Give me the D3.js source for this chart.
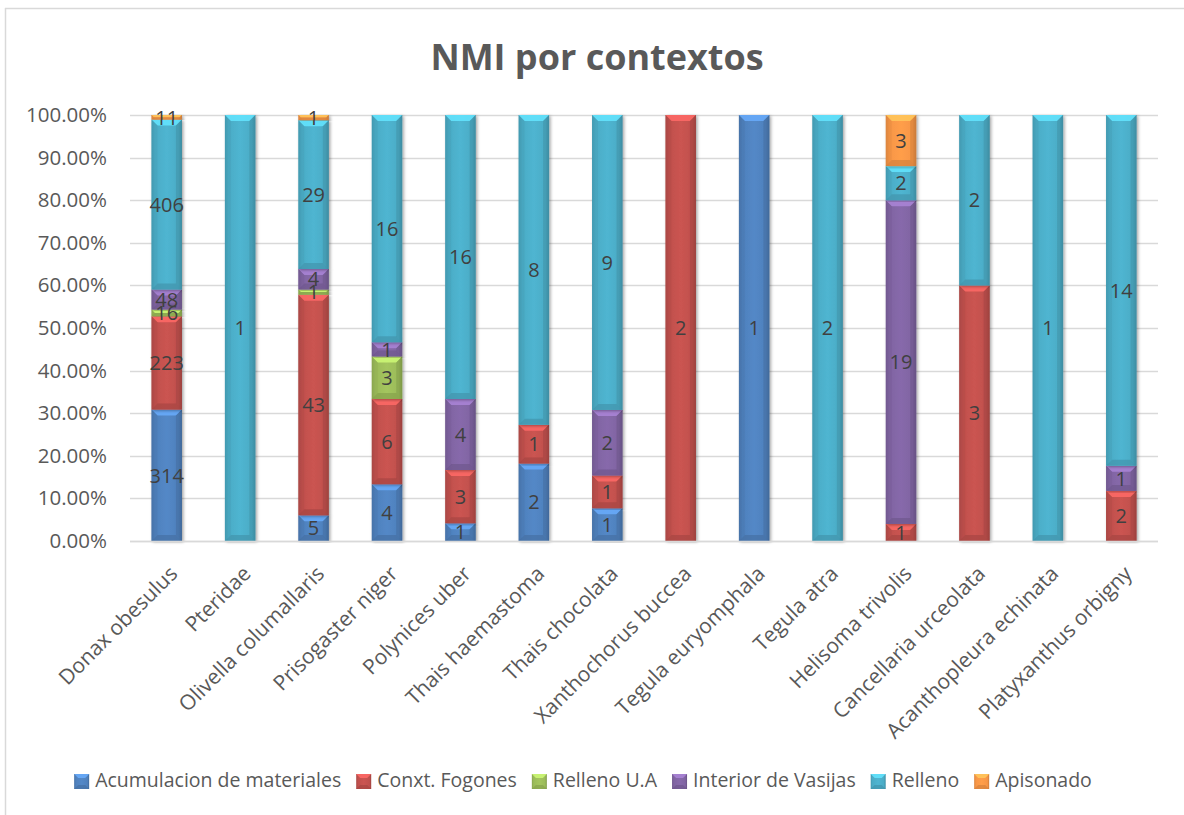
<!DOCTYPE html>
<html>
<head>
<meta charset="utf-8">
<script src="https://cdn.jsdelivr.net/npm/d3@7"></script>
<style>
  html, body { margin: 0; padding: 0; background: #fff; }
  svg { display: block; font-family: "Open Sans", "Noto Sans", sans-serif; }
</style>
</head>
<body>
<svg id="chart" width="1184" height="815"></svg>
<script>
// Species (categories) and counts per context
const categories = [
  "Donax obesulus", "Pteridae", "Olivella columallaris", "Prisogaster niger",
  "Polynices uber", "Thais haemastoma", "Thais chocolata", "Xanthochorus buccea",
  "Tegula euryomphala", "Tegula atra", "Helisoma trivolis", "Cancellaria urceolata",
  "Acanthopleura echinata", "Platyxanthus orbigny"
];
const seriesNames = [
  "Acumulacion de materiales", "Conxt. Fogones", "Relleno U.A",
  "Interior de Vasijas", "Relleno", "Apisonado"
];
const acumulacion = [314, 0, 5, 4, 1, 2, 1, 0, 1, 0, 0, 0, 0, 0];
const fogones     = [223, 0, 43, 6, 3, 1, 1, 2, 0, 0, 1, 3, 0, 2];
const rellenoUA   = [16, 0, 1, 3, 0, 0, 0, 0, 0, 0, 0, 0, 0, 0];
const interior    = [48, 0, 4, 1, 4, 0, 2, 0, 0, 0, 19, 0, 0, 1];
const relleno     = [406, 1, 29, 16, 16, 8, 9, 0, 0, 2, 2, 2, 1, 14];
const apisonado   = [11, 0, 1, 0, 0, 0, 0, 0, 0, 0, 3, 0, 0, 0];
const yTickValues = [0, 0.1, 0.2, 0.3, 0.4, 0.5, 0.6, 0.7, 0.8, 0.9, 1.0];
const colors = ["#4F81BD", "#C0504D", "#9BBB59", "#8064A2", "#4BACC6", "#F79646"];

const seriesValues = [acumulacion, fogones, rellenoUA, interior, relleno, apisonado];
const rows = categories.map((c, i) => {
  const r = { cat: c };
  seriesNames.forEach((s, k) => r[s] = seriesValues[k][i]);
  return r;
});
const stacked = d3.stack().keys(seriesNames).offset(d3.stackOffsetExpand)(rows);

const svg = d3.select("#chart");
const W = 1184, H = 815;
const plot = { left: 130, right: 1158, top: 115, bottom: 541 };

// Chart frame (left and top edges visible)
svg.append("line").attr("x1", 5.5).attr("x2", 5.5).attr("y1", 8).attr("y2", H)
  .attr("stroke", "#d9d9d9").attr("stroke-width", 1.5);
svg.append("line").attr("x1", 5).attr("x2", W).attr("y1", 8.5).attr("y2", 8.5)
  .attr("stroke", "#d9d9d9").attr("stroke-width", 1.5);

const x = d3.scaleBand().domain(categories)
  .range([plot.left, plot.right]).paddingInner(0.585).paddingOuter(0.2925);
const y = d3.scaleLinear().domain([0, 1]).range([plot.bottom, plot.top]);

// Gradients and shadow
const defs = svg.append("defs");
colors.forEach((c, k) => {
  const base = d3.color(c);
  const g = defs.append("linearGradient").attr("id", "grad" + k)
    .attr("x1", "0").attr("x2", "1").attr("y1", "0").attr("y2", "0");
  g.append("stop").attr("offset", "0").attr("stop-color", base.darker(0.35));
  g.append("stop").attr("offset", "0.12").attr("stop-color", base);
  g.append("stop").attr("offset", "0.5").attr("stop-color", base.brighter(0.15));
  g.append("stop").attr("offset", "0.88").attr("stop-color", base);
  g.append("stop").attr("offset", "1").attr("stop-color", base.darker(0.55));
});
const f = defs.append("filter").attr("id", "shadow")
  .attr("x", "-30%").attr("y", "-5%").attr("width", "160%").attr("height", "110%");
f.append("feDropShadow").attr("dx", 1.5).attr("dy", 1).attr("stdDeviation", 1.8)
  .attr("flood-color", "#000").attr("flood-opacity", 0.35);

// Gridlines
const grid = svg.append("g");
yTickValues.forEach(v => {
  grid.append("line")
    .attr("x1", plot.left).attr("x2", plot.right)
    .attr("y1", Math.round(y(v)) + 0.5).attr("y2", Math.round(y(v)) + 0.5)
    .attr("stroke", "#d9d9d9").attr("stroke-width", 1.5);
});

// Y axis labels
const yAxis = d3.axisLeft(y).tickValues(yTickValues)
  .tickFormat(d3.format(".2%")).tickSize(0).tickPadding(0);
const yg = svg.append("g").attr("transform", `translate(${plot.left - 23},0)`).call(yAxis);
yg.select(".domain").remove();
yg.selectAll("text").attr("font-size", 20.5).attr("fill", "#595959")
  .attr("font-family", "'Open Sans', sans-serif");

// Bars with bevel
const bars = svg.append("g");
stacked.forEach((s, k) => {
  const base = d3.color(colors[k]);
  s.forEach((d, i) => {
    const v = seriesValues[k][i];
    if (!v) return;
    const x0 = x(categories[i]), x1 = x0 + x.bandwidth();
    const yt = y(d[1]), yb = y(d[0]);
    const h = yb - yt;
    const b = Math.min(6, h / 2);
    const seg = bars.append("g").attr("filter", "url(#shadow)");
    seg.append("rect").attr("x", x0).attr("y", yt).attr("width", x1 - x0).attr("height", h)
      .attr("fill", `url(#grad${k})`);
    // top bevel
    seg.append("polygon")
      .attr("points", [[x0, yt], [x1, yt], [x1 - b, yt + b], [x0 + b, yt + b]].map(p => p.join(",")).join(" "))
      .attr("fill", base.brighter(0.8)).attr("opacity", 0.85);
    // bottom bevel
    seg.append("polygon")
      .attr("points", [[x0, yb], [x1, yb], [x1 - b, yb - b], [x0 + b, yb - b]].map(p => p.join(",")).join(" "))
      .attr("fill", base.darker(0.5)).attr("opacity", 0.6);
    // right bevel
    seg.append("polygon")
      .attr("points", [[x1, yt], [x1, yb], [x1 - b, yb - b], [x1 - b, yt + b]].map(p => p.join(",")).join(" "))
      .attr("fill", base.darker(0.6)).attr("opacity", 0.45);
    // left bevel
    seg.append("polygon")
      .attr("points", [[x0, yt], [x0, yb], [x0 + b, yb - b], [x0 + b, yt + b]].map(p => p.join(",")).join(" "))
      .attr("fill", base.darker(0.3)).attr("opacity", 0.35);
  });
});

// Axis baseline
svg.append("line").attr("x1", plot.left).attr("x2", plot.right)
  .attr("y1", plot.bottom + 0.5).attr("y2", plot.bottom + 0.5)
  .attr("stroke", "#d9d9d9").attr("stroke-width", 1.5);

// Data labels
const labels = svg.append("g");
stacked.forEach((s, k) => {
  s.forEach((d, i) => {
    const v = seriesValues[k][i];
    if (!v) return;
    labels.append("text")
      .attr("x", x(categories[i]) + x.bandwidth() / 2)
      .attr("y", (y(d[0]) + y(d[1])) / 2)
      .attr("dy", "0.36em")
      .attr("text-anchor", "middle")
      .attr("font-size", 20)
      .attr("fill", "#404040")
      .text(v);
  });
});

// X axis labels, rotated
const xl = svg.append("g");
categories.forEach(c => {
  const cx = x(c) + x.bandwidth() / 2 + 12;
  const cy = plot.bottom + 34;
  xl.append("text")
    .attr("transform", `translate(${cx},${cy}) rotate(-45)`)
    .attr("text-anchor", "end")
    .attr("font-size", 21)
    .attr("fill", "#595959")
    .text(c);
});

// Title
svg.append("text").attr("x", 597).attr("y", 70)
  .attr("text-anchor", "middle").attr("font-size", 36).attr("font-weight", "bold")
  .attr("fill", "#595959").text("NMI por contextos");

// Legend
const legend = svg.append("g");
const items = seriesNames.map((n, k) => {
  const g = legend.append("g");
  const mk = g.append("g");
  const base = d3.color(colors[k]);
  mk.append("rect").attr("x", 0).attr("y", -15).attr("width", 15).attr("height", 15)
    .attr("fill", `url(#grad${k})`);
  mk.append("polygon").attr("points", "0,-15 15,-15 11,-11 4,-11")
    .attr("fill", base.brighter(0.8)).attr("opacity", 0.85);
  mk.append("polygon").attr("points", "0,0 15,0 11,-4 4,-4")
    .attr("fill", base.darker(0.5)).attr("opacity", 0.6);
  const t = g.append("text").attr("x", 21).attr("y", 0).attr("dy", "-0.12em")
    .attr("font-size", 19.5).attr("fill", "#595959").text(n);
  return { g, w: 21 + t.node().getComputedTextLength() };
});
const gap = 15;
const total = d3.sum(items, d => d.w) + gap * (items.length - 1);
let lx = 583 - total / 2;
items.forEach(it => {
  it.g.attr("transform", `translate(${lx},789)`);
  lx += it.w + gap;
});
</script>
</body>
</html>
